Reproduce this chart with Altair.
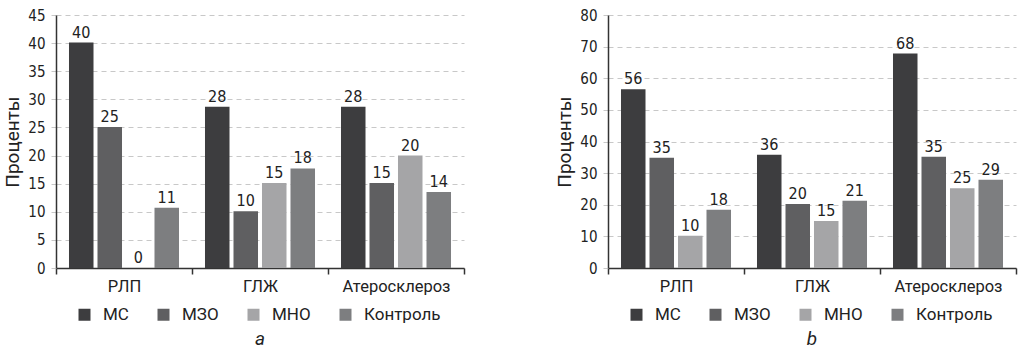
import altair as alt
import pandas as pd

categories = ["РЛП", "ГЛЖ", "Атеросклероз"]
series = ["МС", "МЗО", "МНО", "Контроль"]
colors = ["#3d3d3f", "#5f5f61", "#a5a5a7", "#7d7e80"]

# Panel a: bar heights (%) per category, and printed labels
a_ms = [40.1, 28.7, 28.7]
a_mzo = [25.1, 10.1, 15.1]
a_mno = [0.0, 15.1, 20.0]
a_ctrl = [10.7, 17.7, 13.5]
a_ms_lbl = ["40", "28", "28"]
a_mzo_lbl = ["25", "10", "15"]
a_mno_lbl = ["0", "15", "20"]
a_ctrl_lbl = ["11", "18", "14"]

# Panel b
b_ms = [56.5, 35.8, 67.8]
b_mzo = [34.9, 20.2, 35.2]
b_mno = [10.2, 14.9, 25.2]
b_ctrl = [18.4, 21.3, 27.9]
b_ms_lbl = ["56", "36", "68"]
b_mzo_lbl = ["35", "20", "35"]
b_mno_lbl = ["10", "15", "25"]
b_ctrl_lbl = ["18", "21", "29"]

a_ticks = [0, 5, 10, 15, 20, 25, 30, 35, 40, 45]
b_ticks = [0, 10, 20, 30, 40, 50, 60, 70, 80]

NUM_FONT = "DejaVu Sans Condensed"
TXT_FONT = "Roboto"


def make_df(vals, lbls):
    rows = []
    for s, v, l in zip(series, vals, lbls):
        for c, vv, ll in zip(categories, v, l):
            rows.append({"cat": c, "series": s, "value": vv, "label": ll})
    return pd.DataFrame(rows)


def panel(df, ticks, subtitle):
    base = alt.Chart(df).encode(
        x=alt.X(
            "cat:N",
            sort=categories,
            scale=alt.Scale(paddingInner=0, paddingOuter=0),
            axis=alt.Axis(
                title=None,
                labelAngle=0,
                tickBand="extent",
                domainColor="#333333",
                domainWidth=1.5,
                tickColor="#333333",
                tickWidth=1.5,
                tickSize=6,
                labelFont=TXT_FONT,
                labelFontSize=16.5,
                labelColor="#222222",
                labelPadding=4,
                grid=False,
            ),
        ),
        xOffset=alt.XOffset(
            "series:N",
            sort=series,
            scale=alt.Scale(paddingInner=0.14, paddingOuter=0.456),
        ),
        y=alt.Y(
            "value:Q",
            scale=alt.Scale(domain=[ticks[0], ticks[-1]], nice=False),
            axis=alt.Axis(
                values=ticks,
                title="Проценты",
                titleFont=TXT_FONT,
                titleFontSize=19,
                titleFontWeight="normal",
                titleColor="#222222",
                titlePadding=5,
                labelFont=NUM_FONT,
                labelFontSize=15,
                labelColor="#222222",
                labelPadding=6,
                tickColor="#c8c8c8",
                tickSize=5,
                domainColor="#333333",
                domainWidth=1.5,
                grid=True,
                gridColor="#c8c8c8",
                gridDash=[5, 4],
                gridWidth=1,
            ),
        ),
    )
    bars = base.mark_bar().encode(
        color=alt.Color(
            "series:N",
            sort=series,
            scale=alt.Scale(domain=series, range=colors),
            legend=alt.Legend(
                title=None,
                orient="none",
                direction="horizontal",
                legendX=20,
                legendY=291,
                symbolType="square",
                symbolSize=144,
                symbolStrokeWidth=0,
                labelFont=TXT_FONT,
                labelFontSize=17,
                labelColor="#222222",
                labelOffset=10,
                columnPadding=26,
            ),
        )
    )
    text = base.mark_text(
        baseline="bottom", dy=-2, font=NUM_FONT, fontSize=16, color="#222222"
    ).encode(text="label:N")
    return alt.layer(bars, text).properties(
        width=408,
        height=253,
        title=alt.TitleParams(
            subtitle,
            orient="bottom",
            anchor="middle",
            frame="group",
            font=TXT_FONT,
            fontSize=19,
            fontStyle="italic",
            fontWeight="normal",
            color="#222222",
            offset=7,
        ),
    )


a_df = make_df([a_ms, a_mzo, a_mno, a_ctrl], [a_ms_lbl, a_mzo_lbl, a_mno_lbl, a_ctrl_lbl])
b_df = make_df([b_ms, b_mzo, b_mno, b_ctrl], [b_ms_lbl, b_mzo_lbl, b_mno_lbl, b_ctrl_lbl])

chart = (
    alt.hconcat(panel(a_df, a_ticks, "a"), panel(b_df, b_ticks, "b"), spacing=90)
    .resolve_scale(color="independent", y="independent")
    .properties(padding={"left": 3, "top": 8, "right": 5, "bottom": 0})
    .configure_view(stroke=None)
)

chart.save("out.html", embed_options={"renderer": "svg", "actions": False})
